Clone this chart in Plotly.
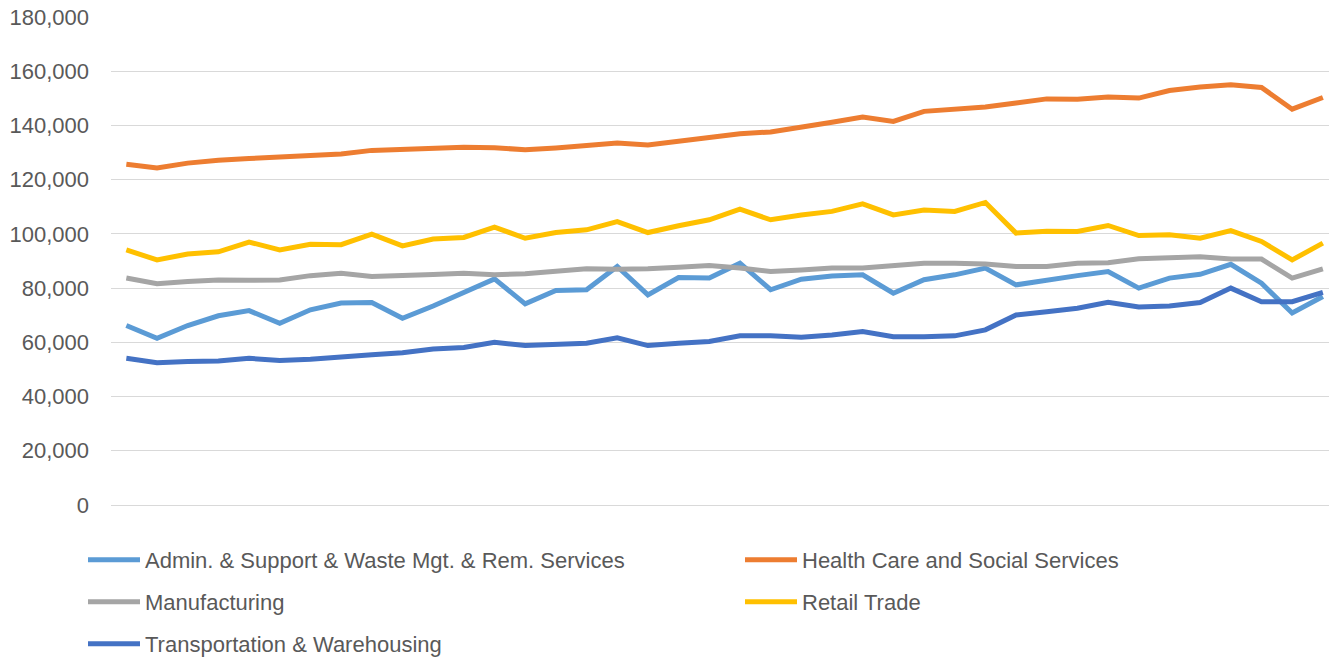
import plotly.graph_objects as go

periods = list(range(40))

admin = [66.2, 61.5, 66.2, 69.8, 71.7, 67.0, 72.0, 74.5, 74.7, 68.9, 73.4, 78.4, 83.4, 74.2, 79.1, 79.4, 88.0, 77.5, 83.9, 83.7,
         89.2, 79.4, 83.3, 84.5, 84.9, 78.1, 83.1, 84.9, 87.4, 81.2, 83.0, 84.6, 86.1, 80.0, 83.7, 85.1, 88.8, 81.8, 70.8, 76.9]
health = [125.7, 124.3, 126.1, 127.2, 127.8, 128.3, 128.6, 129.5, 130.8, 131.3, 131.7, 132.0, 131.8, 131.0, 131.7, 132.5, 133.5, 132.8, 134.2, 135.7,
          136.9, 137.6, 139.6, 141.2, 143.1, 141.5, 145.2, 146.0, 146.8, 148.3, 149.8, 149.7, 150.5, 150.1, 152.9, 154.2, 155.0, 154.0, 146.0, 150.3]
manufacturing = [83.7, 81.6, 82.4, 83.0, 82.9, 83.0, 84.6, 85.5, 84.3, 84.5, 85.0, 85.5, 84.9, 85.3, 86.4, 87.1, 87.0, 87.1, 87.7, 88.3,
                 87.4, 86.1, 86.7, 87.4, 87.4, 88.3, 89.2, 89.2, 88.9, 88.0, 88.0, 89.2, 89.4, 90.8, 91.0, 91.6, 90.7, 90.7, 83.7, 87.1]
retail = [94.1, 90.4, 92.6, 93.4, 97.0, 94.1, 96.2, 96.0, 99.9, 95.6, 98.1, 98.7, 102.5, 98.4, 100.5, 101.5, 104.5, 100.5, 103.0, 105.2,
          109.1, 105.2, 107.0, 108.3, 111.1, 107.0, 108.8, 108.3, 111.6, 100.3, 101.0, 100.9, 103.1, 99.4, 99.7, 98.4, 101.2, 97.2, 90.4, 96.6]
transport = [54.1, 52.5, 52.9, 53.1, 54.1, 53.3, 53.8, 54.4, 55.4, 56.2, 57.5, 58.1, 60.0, 58.8, 59.1, 59.7, 61.7, 58.8, 59.7, 60.3,
             62.4, 62.4, 61.9, 62.7, 64.0, 62.1, 62.1, 62.4, 64.6, 70.1, 71.3, 72.6, 74.8, 73.0, 73.4, 74.7, 80.0, 75.0, 75.0, 78.4]

series_names = ["Admin. & Support & Waste Mgt. & Rem. Services", "Health Care and Social Services",
                "Manufacturing", "Retail Trade", "Transportation & Warehousing"]
series_values = [admin, health, manufacturing, retail, transport]
series_colors = ["#5B9BD5", "#ED7D31", "#A5A5A5", "#FFC000", "#4472C4"]

tick_vals = [0, 20000, 40000, 60000, 80000, 100000, 120000, 140000, 160000, 180000]

W, H = 1329, 659
FONT = "Liberation Sans"
TEXT_COL = "#595959"

# legend slots (left px of legend box, top px of legend box), one legend per entry
legend_slots = [(83, 539), (740, 539), (83, 581), (740, 581), (83, 623)]

fig = go.Figure()
layout_legends = {}
for i, (name, vals, col) in enumerate(zip(series_names, series_values, series_colors)):
    key = "legend" if i == 0 else f"legend{i + 1}"
    fig.add_trace(go.Scatter(
        x=periods, y=[v * 1000 for v in vals], name=name, mode="lines",
        line=dict(color=col, width=5), legend=key, cliponaxis=False,
    ))
    lx, ly = legend_slots[i]
    layout_legends[key] = dict(
        xref="container", yref="container",
        x=lx / W, y=1 - ly / H, xanchor="left", yanchor="top",
        itemwidth=52, bgcolor="rgba(0,0,0,0)",
        font=dict(family=FONT, size=22, color=TEXT_COL),
    )

fig.update_layout(
    width=W, height=H,
    margin=dict(l=111, r=0, t=17, b=154, autoexpand=False),
    paper_bgcolor="white", plot_bgcolor="white",
    font=dict(family=FONT, size=22, color=TEXT_COL),
    showlegend=True,
    xaxis=dict(range=[-0.5, 39.2], showgrid=False, showticklabels=False, zeroline=False,
               showline=False, ticks="", automargin=False),
    yaxis=dict(range=[0, 180000], tickvals=tick_vals, tickformat=",d",
               showgrid=True, gridcolor="#D9D9D9", gridwidth=1.3,
               zeroline=True, zerolinecolor="#D9D9D9", zerolinewidth=1.3,
               showline=False, ticks="", ticklabelstandoff=21, automargin=False,
               tickfont=dict(family=FONT, size=22, color=TEXT_COL)),
    **layout_legends,
)

fig.write_html("out.html", config={"displayModeBar": False},
               post_script="document.body.style.margin='0px';document.body.style.overflow='hidden';")
